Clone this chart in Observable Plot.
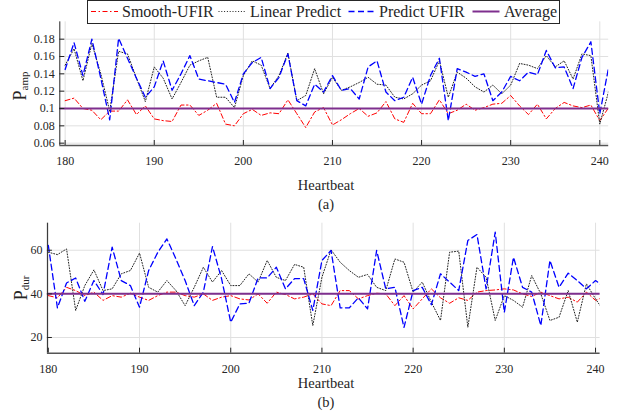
<!DOCTYPE html>
<html><head><meta charset="utf-8">
<script src="https://cdn.jsdelivr.net/npm/d3@7"></script>
<script src="https://cdn.jsdelivr.net/npm/@observablehq/plot@0.6"></script>
<style>
body{margin:0;background:#fff;}
#wrap{position:relative;width:618px;height:413px;overflow:hidden;font-family:"Liberation Serif",serif;background:#fff;}
#wrap > svg{position:absolute;left:0;}
#wrap svg text{font-family:"Liberation Serif",serif !important;}
</style></head><body><div id="wrap"></div>
<script>
const heartbeats = [180,181,182,183,184,185,186,187,188,189,190,191,192,193,194,195,196,197,198,199,
  200,201,202,203,204,205,206,207,208,209,210,211,212,213,214,215,216,217,218,219,
  220,221,222,223,224,225,226,227,228,229,230,231,232,233,234,235,236,237,238,239,240,241];

const seriesNames = ["Smooth-UFIR", "Linear Predict", "Predict UFIR", "Average"];

const ampSmooth = [0.109,0.112,0.100,0.098,0.087,0.097,0.097,0.110,0.093,0.103,
  0.088,0.086,0.085,0.104,0.104,0.092,0.098,0.106,0.082,0.080,
  0.094,0.099,0.092,0.095,0.094,0.110,0.094,0.078,0.096,0.101,
  0.081,0.087,0.094,0.100,0.091,0.095,0.108,0.088,0.084,0.106,
  0.094,0.094,0.110,0.094,0.098,0.105,0.098,0.101,0.105,0.106,
  0.115,0.103,0.093,0.105,0.088,0.100,0.107,0.103,0.101,0.104,0.086,0.101];
const ampLinear = [0.150,0.169,0.132,0.175,0.140,0.097,0.166,0.163,0.135,0.108,
  0.148,0.135,0.111,0.130,0.150,0.155,0.159,0.113,0.113,0.101,
  0.138,0.155,0.150,0.123,0.138,0.164,0.109,0.115,0.146,0.117,
  0.136,0.121,0.125,0.130,0.136,0.128,0.127,0.113,0.111,0.117,
  0.127,0.132,0.155,0.113,0.142,0.135,0.125,0.119,0.127,0.117,
  0.127,0.152,0.150,0.146,0.161,0.148,0.155,0.134,0.163,0.161,0.082,0.120];
const ampPredict = [0.145,0.176,0.138,0.180,0.135,0.087,0.181,0.158,0.135,0.113,
  0.125,0.155,0.121,0.140,0.161,0.134,0.132,0.130,0.128,0.107,
  0.140,0.153,0.159,0.123,0.136,0.163,0.109,0.103,0.128,0.119,
  0.138,0.121,0.123,0.111,0.148,0.155,0.119,0.109,0.113,0.136,
  0.105,0.138,0.158,0.086,0.146,0.142,0.137,0.140,0.109,0.119,
  0.137,0.132,0.142,0.139,0.167,0.147,0.148,0.123,0.159,0.177,0.094,0.148];
const ampAverage = 0.1;

const durSmooth = [39.2,38.2,43.0,41.5,39.2,40.8,37.0,39.2,38.5,40.3,
  38.5,37.0,39.2,40.8,40.8,39.2,38.5,40.0,37.0,38.5,
  39.2,37.7,37.2,40.0,35.7,40.8,39.7,37.7,38.5,40.0,
  35.4,34.6,41.5,41.5,37.7,39.2,40.3,40.0,34.6,39.2,
  33.1,37.7,42.3,38.2,35.7,38.2,37.0,40.8,41.5,41.8,
  42.3,41.8,40.0,38.8,40.8,39.2,37.7,38.5,36.2,40.8,37.0,38.8];
const durLinear = [59.1,58.0,60.6,32.4,43.8,51.0,41.5,42.3,49.2,50.7,
  58.7,43.0,40.8,46.1,41.5,34.6,43.0,52.2,45.4,50.7,
  43.8,43.8,49.2,45.4,55.3,47.6,46.1,53.5,52.2,25.5,
  47.6,60.2,54.5,50.7,47.6,48.9,43.0,41.5,56.0,54.5,
  40.8,45.4,36.2,27.8,59.1,59.6,24.7,52.2,47.6,27.8,
  39.2,37.0,33.9,48.4,40.0,27.8,29.3,41.5,27.0,44.6,37.7,31.6];
const durPredict = [62.2,33.6,45.0,47.3,36.6,46.1,39.7,61.4,46.1,43.8,
  33.9,50.7,59.0,65.2,56.0,46.1,34.6,40.8,61.7,46.9,
  27.0,35.4,35.7,47.3,47.3,52.2,42.3,47.0,47.0,32.4,
  55.3,59.9,33.6,33.6,38.2,33.1,59.9,42.3,43.0,24.6,
  41.5,43.0,35.0,49.2,45.4,41.5,64.5,67.2,42.3,68.3,
  31.6,56.8,43.0,40.8,25.5,55.3,43.0,49.5,46.1,42.3,46.1,43.0];
const durAverage = 40;

const xTicks = [180,190,200,210,220,230,240];
const ampTicks = [0.06,0.08,0.1,0.12,0.14,0.16,0.18];
const durTicks = [20,40,60];

const FONT = '"Liberation Serif", serif';
const TXT = "#262626";
const lineStyles = [
  {stroke:"#ff0000", dash:"5,2.5,1.5,2.5", width:1},
  {stroke:"#222222", dash:"1,1.8", width:1},
  {stroke:"#0000ff", dash:"6,3.5", width:1.3},
  {stroke:"#7e2f8e", dash:null, width:2}
];

function panel(o){
  const rows = s => heartbeats.map((h,i)=>({h, v:s[i]}));
  const ph = o.height - o.mt - o.mb, pw = o.width - o.ml - o.mr;
  const tly = 5*(o.yDomain[1]-o.yDomain[0])/ph;
  const tlx = 5*(o.xDomain[1]-o.xDomain[0])/pw;
  const marks = [
    Plot.gridX(xTicks, {stroke:"#e0e0e0", strokeOpacity:1}),
    Plot.gridY(o.yTicks, {stroke:"#e0e0e0", strokeOpacity:1})
  ];
  o.series.forEach((s,i)=>{
    const st = lineStyles[i];
    marks.push(Plot.line(rows(s), {x:"h", y:"v", stroke:st.stroke, strokeWidth:st.width, strokeDasharray:st.dash, clip:true}));
  });
  marks.push(
    Plot.ruleY([o.avg], {stroke:lineStyles[3].stroke, strokeWidth:lineStyles[3].width}),
    Plot.ruleX(xTicks, {x:d=>d, y1:o.yDomain[0], y2:o.yDomain[0]+tly, stroke:TXT}),
    Plot.ruleY(o.yTicks, {y:d=>d, x1:o.xDomain[0], x2:o.xDomain[0]+tlx, stroke:TXT}),
    Plot.ruleX([o.xDomain[0]], {stroke:TXT, strokeWidth:1}),
    Plot.ruleY([o.yDomain[0]], {stroke:"#555", strokeWidth:1.5}),
    Plot.axisX({ticks:xTicks, tickSize:0, tickPadding:11, label:null, fill:TXT}),
    Plot.axisY({ticks:o.yTicks, tickSize:0, tickPadding:5, label:null, tickFormat:d=>String(d), fill:TXT})
  );
  const svg = Plot.plot({
    width:o.width, height:o.height,
    marginTop:o.mt, marginBottom:o.mb, marginLeft:o.ml, marginRight:o.mr,
    x:{domain:o.xDomain}, y:{domain:o.yDomain},
    style:{fontFamily:"Liberation Serif, serif", fontSize:"12px", color:TXT, background:"transparent"},
    marks
  });
  svg.style.top = o.top + "px";
  const s = d3.select(svg);
  const yl = s.append("text").attr("transform", `translate(${o.ylx},${o.yly}) rotate(-90)`)
    .attr("text-anchor","middle").attr("fill",TXT);
  yl.append("tspan").attr("font-size",18).text("P");
  yl.append("tspan").attr("font-size",11).attr("dy",2).text(o.sub);
  s.append("text").attr("x",326).attr("y",o.capY1).attr("text-anchor","middle").attr("fill",TXT)
    .attr("font-size",14.5).text("Heartbeat");
  s.append("text").attr("x",326).attr("y",o.capY2).attr("text-anchor","middle").attr("fill",TXT)
    .attr("font-size",14.5).text(o.caption);
  return svg;
}

const wrap = document.getElementById("wrap");

wrap.appendChild(panel({
  top:0, width:618, height:215, mt:21.35, mb:70, ml:59.3, mr:9.8,
  xDomain:[179.4,241], yDomain:[0.0573,0.2], yTicks:ampTicks,
  series:[ampSmooth, ampLinear, ampPredict], avg:ampAverage,
  sub:"amp", ylx:26, yly:86, capY1:190, capY2:209, caption:"(a)"
}));

wrap.appendChild(panel({
  top:200, width:618, height:213, mt:22.7, mb:60.3, ml:46.9, mr:18.4,
  xDomain:[179.9,240.5], yDomain:[12.8,72.4], yTicks:durTicks,
  series:[durSmooth, durLinear, durPredict], avg:durAverage,
  sub:"dur", ylx:27, yly:88, capY1:188, capY2:207, caption:"(b)"
}));

// legend
const legendPos = [
  {sx:91, tx:122},
  {sx:218.5, tx:250},
  {sx:348.5, tx:379},
  {sx:472.5, tx:504}
];
const lg = d3.select(wrap).append("svg").attr("width",618).attr("height",26).style("top","0px");
lg.append("rect").attr("x",87.5).attr("y",0.5).attr("width",472).attr("height",23)
  .attr("fill","#fff").attr("stroke","#262626").attr("stroke-width",1);
seriesNames.forEach((name,i)=>{
  const st = lineStyles[i], p = legendPos[i];
  lg.append("line").attr("x1",p.sx).attr("x2",p.sx+27).attr("y1",11.5).attr("y2",11.5)
    .attr("stroke",st.stroke).attr("stroke-width",st.width).attr("stroke-dasharray",st.dash);
  lg.append("text").attr("x",p.tx).attr("y",17).attr("fill",TXT)
    .attr("font-size",16).text(name);
});
</script></body></html>
